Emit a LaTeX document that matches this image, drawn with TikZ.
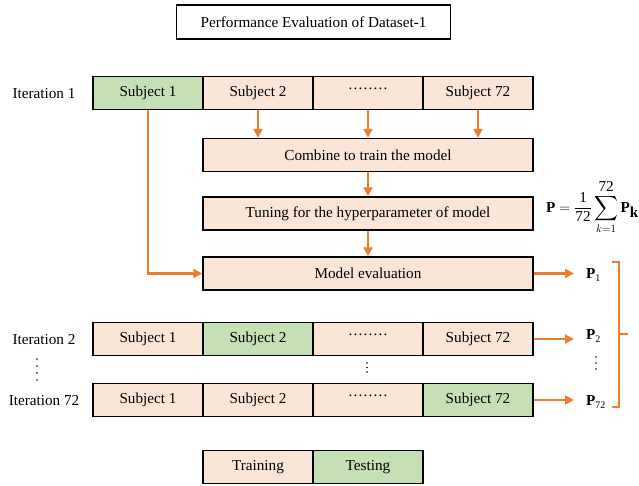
\documentclass[tikz,border=0pt]{standalone}
\usepackage{exscale}
\usepackage{fontspec}
\setmainfont{Liberation Serif}
\usetikzlibrary{arrows.meta}
\definecolor{peach}{HTML}{FBE5D6}
\definecolor{lgreen}{HTML}{C5E0B4}
\definecolor{orng}{HTML}{ED7D31}
\newcommand{\cdotsrow}{\vphantom{Sj}\smash{\raisebox{7pt}{\hbox to 40pt{\xleaders\hbox to 5pt{\hss.\hss}\hfil}}}}
\newcommand{\bigsumsym}{\mathop{\vcenter{\hbox{\scalebox{1.15}[1.2]{$\displaystyle\sum$}}}}\limits}
\begin{document}
\begin{tikzpicture}[x=1pt,y=-1pt,
  base/.style={draw=black, line width=1.5pt, inner sep=0pt, font=\fontsize{15.2}{18}\selectfont},
  cell/.style={base, minimum width=110pt, minimum height=33pt},
  train/.style={cell, fill=peach},
  test/.style={cell, fill=lgreen},
  wide/.style={base, fill=peach, minimum width=330pt, minimum height=33pt},
  lbl/.style={font=\fontsize{15.2}{18}\selectfont, inner sep=0pt},
  plbl/.style={font=\fontsize{15.2}{18}\selectfont\bfseries, inner sep=0pt, anchor=west},
  oarrow/.style={draw=orng, line width=2.2pt, -{Triangle[length=9pt,width=9pt]}},
  oline/.style={draw=orng, line width=2pt},
  vdot/.style={fill=black, draw=none}
]
\useasboundingbox (0,0) rectangle (639,485);

% title
\node[base, fill=white, minimum width=274pt, minimum height=34pt] (title) at (313.5,22) {Performance Evaluation of Dataset-1};

% iteration 1
\node[lbl] (it1) at (44,94) {Iteration 1};
\node[test]  (a1) at (148,93) {Subject 1};
\node[train] (a2) at (258,93) {Subject 2};
\node[train] (a3) at (368,93) {\cdotsrow};
\node[train] (a4) at (478,93) {Subject 72};

\node[wide] (comb) at (368,155) {Combine to train the model};
\node[wide] (tune) at (368,213.5) {Tuning for the hyperparameter of model};
\node[wide] (model) at (368,273.5) {Model evaluation};

% iteration 2
\node[lbl] (it2) at (44,340) {Iteration 2};
\node[train] (b1) at (148,339) {Subject 1};
\node[test]  (b2) at (258,339) {Subject 2};
\node[train] (b3) at (368,339) {\cdotsrow};
\node[train] (b4) at (478,339) {Subject 72};

% iteration 72
\node[lbl] (it72) at (44,401) {Iteration 72};
\node[train] (c1) at (148,400) {Subject 1};
\node[train] (c2) at (258,400) {Subject 2};
\node[train] (c3) at (368,400) {\cdotsrow};
\node[test]  (c4) at (478,400) {Subject 72};

% legend
\node[train] (ltr) at (258,467) {Training};
\node[test]  (lte) at (368,467) {Testing};

% P labels
\node[plbl] (p1) at (586,275) {P\textsubscript{\normalfont\fontsize{10}{10}\selectfont 1}};
\node[plbl] (p2) at (586,336) {P\textsubscript{\normalfont\fontsize{10}{10}\selectfont 2}};
\node[plbl] (p72) at (586,402) {P\textsubscript{\normalfont\fontsize{10}{10}\selectfont 72}};

% formula
\node[lbl, anchor=east] (form) at (639,207) {\fontsize{15.2}{18}\selectfont$\displaystyle \textbf{P} = \frac{\textrm{1}}{\textrm{72}}\bigsumsym_{k=1}^{\textrm{72}}\textbf{P}_{\textbf{k}}$};

% arrows
\draw[oarrow] (a2.south) -- (a2.south |- comb.north);
\draw[oarrow] (a3.south) -- (a3.south |- comb.north);
\draw[oarrow] (a4.south) -- (a4.south |- comb.north);
\draw[oarrow] (comb.south) -- (tune.north);
\draw[oarrow] (tune.south) -- (model.north);
\draw[oarrow] (a1.south) |- (model.west);
\draw[oarrow, shorten >=12pt] (model.east) -- (model.east -| p1.west);
\draw[oarrow, shorten >=12pt] (b4.east) -- (b4.east -| p2.west);
\draw[oarrow, shorten >=12pt] (c4.east) -- (c4.east -| p72.west);

% bracket
\draw[oline] (612,262) -- (619,262) -- (619,407) -- (612,407);
\draw[oline] (619,334) -- (628,334);

% vertical dots
\foreach \yy in {359,366,373,380} \fill[vdot] (37,\yy) circle (0.9);
\foreach \yy in {363,367.5,372} \fill[vdot] (367,\yy) circle (0.9);
\foreach \yy in {357,363,369} \fill[vdot] (596,\yy) circle (0.9);
\end{tikzpicture}
\end{document}
